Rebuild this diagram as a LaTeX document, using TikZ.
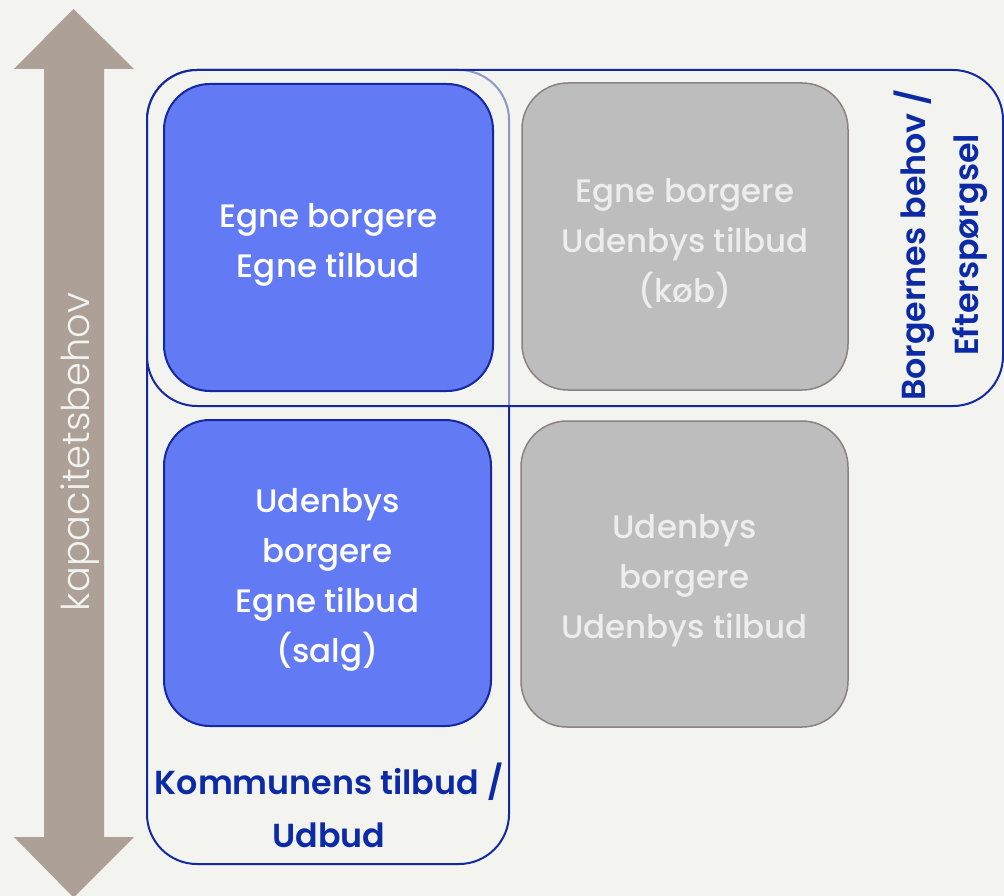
\documentclass[tikz,border=0pt]{standalone}
\usepackage{fontspec}
\setmainfont{Poppins}
\newfontfamily\lightfont{Poppins Light}
\newfontfamily\medfont{Poppins Medium}
\newfontfamily\semifont{Poppins SemiBold}
\definecolor{bg}{HTML}{F3F3EF}
\definecolor{arrowc}{HTML}{ADA197}
\definecolor{bluefill}{HTML}{627BF5}
\definecolor{bluedark}{HTML}{1428A0}
\definecolor{labelblue}{HTML}{0C2AA6}
\definecolor{grayfill}{HTML}{BDBDBD}
\definecolor{graydraw}{HTML}{8A8282}
\definecolor{graytext}{HTML}{EDEDED}
\tikzset{
  bluebox/.style={draw=bluedark, line width=2pt, fill=bluefill, rounded corners=46pt, inner sep=0pt},
  graybox/.style={draw=graydraw, line width=1.5pt, fill=grayfill, rounded corners=46pt, inner sep=0pt},
  boxtext/.style={align=center, font=\medfont\fontsize{32.5}{50}\selectfont, inner sep=0pt},
  frame/.style={draw=bluedark, line width=2pt, rounded corners=50pt, inner sep=0pt},
  lbl/.style={text=labelblue, align=center, font=\semifont\fontsize{33.3}{53}\selectfont, inner sep=0pt}
}
\begin{document}
\begin{tikzpicture}[x=1pt,y=-1pt]
\fill[bg] (0,0) rectangle (1004,896);
\useasboundingbox (0,0) rectangle (1004,896);
% arrow
\fill[arrowc] (73.5,9) -- (134,69) -- (104,69) -- (104,837) -- (134,837) -- (73.5,897.5) -- (14,837) -- (44,837) -- (44,69) -- (14,69) -- cycle;
\node[rotate=90, text=bg, font=\lightfont\fontsize{38.3}{44}\selectfont, inner sep=0pt] (kap) at (80,452) {kapacitetsbehov};
% frames
\node[frame, minimum width=362pt, minimum height=794pt] (vframe) at (328,467) {};
\node[frame, fill=bg, fill opacity=0.55, minimum width=856pt, minimum height=336pt] (hframe) at (575,238) {};
% boxes
\node[bluebox, minimum width=329pt, minimum height=307pt] (b1) at (328.5,237.5) {};
\node[graybox, minimum width=326pt, minimum height=307pt] (b2) at (685,236.5) {};
\node[bluebox, minimum width=327pt, minimum height=306pt] (b3) at (327.5,573) {};
\node[graybox, minimum width=327pt, minimum height=306pt] (b4) at (684.5,574) {};
\node[boxtext, text=white, yshift=-7pt] (t1) at (b1.center) {Egne borgere\\Egne tilbud};
\node[boxtext, text=graytext, yshift=-7pt] (t2) at (b2.center) {Egne borgere\\Udenbys tilbud\\(køb)};
\node[boxtext, text=white, yshift=-7pt] (t3) at (b3.center) {Udenbys\\borgere\\Egne tilbud\\(salg)};
\node[boxtext, text=graytext, yshift=-7pt] (t4) at (b4.center) {Udenbys\\borgere\\Udenbys tilbud};
% labels
\node[lbl] (kom) at (329,805) {Kommunens tilbud /\\Udbud};
\node[lbl, rotate=90] (bor) at (941,245) {Borgernes behov /\\Efterspørgsel};
\end{tikzpicture}
\end{document}
